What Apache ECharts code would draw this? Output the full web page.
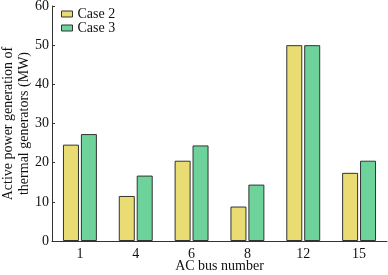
<!DOCTYPE html>
<html><head><meta charset="utf-8">
<script src="https://cdn.jsdelivr.net/npm/echarts@6/dist/echarts.min.js"></script>
<style>html,body{margin:0;padding:0;background:#fff}#c{width:388px;height:275px}</style>
</head><body><div id="c"></div>
<script>
const categories = ['1', '4', '6', '8', '12', '15'];
const case2 = [24.6, 11.5, 20.5, 8.8, 50, 17.4];
const case3 = [27.3, 16.7, 24.4, 14.4, 50, 20.5];
const seriesNames = ['Case 2', 'Case 3'];
const font = 'Liberation Serif';
const chart = echarts.init(document.getElementById('c'), null, {renderer: 'canvas'});
chart.setOption({
  animation: false,
  backgroundColor: '#fff',
  grid: {left: 52, top: 6, right: 1, bottom: 34, containLabel: false, outerBoundsMode: 'none'},
  legend: {
    left: 61, top: 7, orient: 'vertical', itemWidth: 11, itemHeight: 6, itemGap: 0, padding: 0,
    icon: 'rect',
    textStyle: {fontFamily: font, fontSize: 14, color: '#111', lineHeight: 12},
    itemStyle: {borderColor: '#333', borderWidth: 1}
  },
  xAxis: {
    type: 'category', data: categories,
    name: 'AC bus number', nameLocation: 'middle', nameGap: 18, nameMoveOverlap: false,
    nameTextStyle: {fontFamily: font, fontSize: 14, color: '#111'},
    axisLine: {lineStyle: {color: '#333', width: 1}},
    axisTick: {inside: true, length: 3, lineStyle: {color: '#333'}},
    axisLabel: {fontFamily: font, fontSize: 14, color: '#111', margin: 6}
  },
  yAxis: {
    type: 'value', min: 0, max: 60, interval: 10,
    name: 'Active power generation of\nthermal generators (MW)', nameLocation: 'middle', nameGap: 20, nameMoveOverlap: false,
    nameTextStyle: {fontFamily: font, fontSize: 14, color: '#111', lineHeight: 16},
    splitLine: {show: false},
    axisLine: {show: true, lineStyle: {color: '#333', width: 1}},
    axisTick: {show: true, inside: true, length: 3, lineStyle: {color: '#333'}},
    axisLabel: {fontFamily: font, fontSize: 14, color: '#111', margin: 3}
  },
  series: [
    {name: seriesNames[0], type: 'bar', data: case2, barWidth: 16, barGap: '12%',
     itemStyle: {color: '#e8dc72', borderColor: '#333', borderWidth: 1}},
    {name: seriesNames[1], type: 'bar', data: case3, barWidth: 16,
     itemStyle: {color: '#6dd39b', borderColor: '#333', borderWidth: 1}}
  ]
});
</script></body></html>
